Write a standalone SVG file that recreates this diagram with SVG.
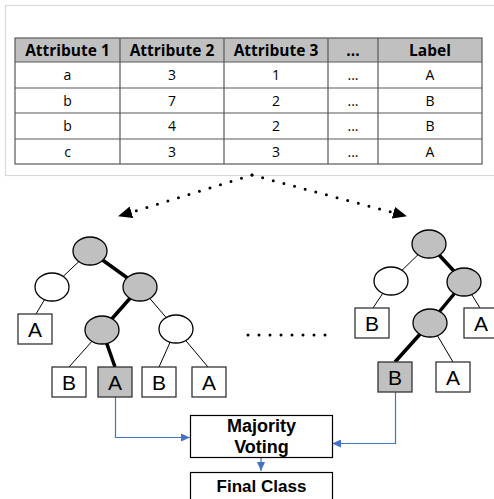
<svg xmlns="http://www.w3.org/2000/svg" width="494" height="499" viewBox="0 0 494 499">
<defs>
<style>
.hdr{font-family:"Open Sans","Liberation Sans",sans-serif;font-weight:bold;font-size:15.5px;fill:#000;text-anchor:middle}
.cell{font-family:"Open Sans","Liberation Sans",sans-serif;font-size:14px;fill:#000;text-anchor:middle}
.grid{stroke:#595959;stroke-width:1.2;fill:none}
.dot{fill:none;stroke:#000;stroke-width:3;stroke-linecap:round;stroke-dasharray:0 11}
.thin{stroke:#000;stroke-width:1}
.thick{stroke:#000;stroke-width:3.5}
.nw{fill:#fff;stroke:#000;stroke-width:1.3}
.ng{fill:#c0c0c0;stroke:#000;stroke-width:1.3}
.bw{fill:#fff;stroke:#333;stroke-width:1.3}
.bg{fill:#c0c0c0;stroke:#333;stroke-width:1.3}
.lt{font-family:"Liberation Sans",Arial,sans-serif;font-size:21px;fill:#000;text-anchor:middle}
.blue{fill:none;stroke:#4472c4;stroke-width:1.2}
.box{fill:#fff;stroke:#000;stroke-width:1.2}
.bt{font-family:"Liberation Sans",Arial,sans-serif;font-weight:bold;font-size:18px;fill:#000;text-anchor:middle}
.bf{font-family:"Liberation Sans",Arial,sans-serif;font-weight:bold;font-size:17px;fill:#000;text-anchor:middle}
</style>
<marker id="ah" markerWidth="14" markerHeight="12" refX="13" refY="6" orient="auto" markerUnits="userSpaceOnUse"><path d="M0,0 L14,6 L0,12 Z" fill="#000"/></marker>
<marker id="bh" markerWidth="9" markerHeight="8" refX="9" refY="4" orient="auto" markerUnits="userSpaceOnUse"><path d="M0,0 L9,4 L0,8 Z" fill="#4472c4"/></marker>
</defs>
<rect width="494" height="499" fill="#fff"/>
<g id="dataset">
<rect x="5.5" y="5.5" width="495" height="170" fill="#fff" stroke="#d9d9d9" stroke-width="1.2"/>
<rect x="15" y="38" width="467" height="24" fill="#c0c0c0"/>
<rect x="15" y="38" width="467" height="126" class="grid"/>
<path class="grid" d="M15,62H482M15,88H482M15,113H482M15,139H482M120,38V164M224,38V164M328,38V164M378,38V164"/>
<text class="hdr" x="67.5" y="55.5">Attribute 1</text>
<text class="hdr" x="172" y="55.5">Attribute 2</text>
<text class="hdr" x="276" y="55.5">Attribute 3</text>
<text class="hdr" x="353" y="55.5">...</text>
<text class="hdr" x="430" y="55.5">Label</text>
<text class="cell" x="67.5" y="80">a</text><text class="cell" x="172" y="80">3</text><text class="cell" x="276" y="80">1</text><text class="cell" x="353" y="80">...</text><text class="cell" x="430" y="80">A</text>
<text class="cell" x="67.5" y="105.5">b</text><text class="cell" x="172" y="105.5">7</text><text class="cell" x="276" y="105.5">2</text><text class="cell" x="353" y="105.5">...</text><text class="cell" x="430" y="105.5">B</text>
<text class="cell" x="67.5" y="131">b</text><text class="cell" x="172" y="131">4</text><text class="cell" x="276" y="131">2</text><text class="cell" x="353" y="131">...</text><text class="cell" x="430" y="131">B</text>
<text class="cell" x="67.5" y="156.5">c</text><text class="cell" x="172" y="156.5">3</text><text class="cell" x="276" y="156.5">3</text><text class="cell" x="353" y="156.5">...</text><text class="cell" x="430" y="156.5">A</text>
</g>
<g id="connectors">
<path class="dot" d="M252,175 L119,216" marker-end="url(#ah)"/>
<path class="dot" d="M252,175 L406,216" marker-end="url(#ah)"/>
<path class="dot" d="M248,335 H333"/>
<line class="thin" x1="90" y1="251" x2="52" y2="287"/>
<line class="thick" x1="90" y1="251" x2="140" y2="287"/>
<line class="thin" x1="52" y1="287" x2="36" y2="314"/>
<line class="thick" x1="140" y1="287" x2="102" y2="330"/>
<line class="thin" x1="140" y1="287" x2="176" y2="329"/>
<line class="thin" x1="102" y1="330" x2="69" y2="367"/>
<line class="thick" x1="102" y1="330" x2="115" y2="367"/>
<line class="thin" x1="176" y1="329" x2="159" y2="367"/>
<line class="thin" x1="176" y1="329" x2="208" y2="367"/>
<line class="thin" x1="429" y1="244" x2="391" y2="281"/>
<line class="thick" x1="429" y1="244" x2="464" y2="282"/>
<line class="thin" x1="391" y1="281" x2="373" y2="308"/>
<line class="thick" x1="464" y1="282" x2="430" y2="323"/>
<line class="thin" x1="464" y1="282" x2="480" y2="308"/>
<line class="thick" x1="430" y1="323" x2="395" y2="362"/>
<line class="thin" x1="430" y1="323" x2="453" y2="362"/>
<path class="blue" d="M115.5,397 V437.5 H190" marker-end="url(#bh)"/>
<path class="blue" d="M395.5,392 V443.5 H332" marker-end="url(#bh)"/>
<path class="blue" d="M261,458 V471" marker-end="url(#bh)"/>
</g>
<g id="tree1">
<ellipse class="ng" cx="90" cy="251" rx="17" ry="14"/>
<ellipse class="nw" cx="52" cy="287" rx="17" ry="14"/>
<ellipse class="ng" cx="140" cy="287" rx="17" ry="14"/>
<ellipse class="ng" cx="102" cy="330" rx="17" ry="14"/>
<ellipse class="nw" cx="176" cy="329" rx="17" ry="14"/>
<rect class="bw" x="18" y="314" width="34" height="30"/><text class="lt" x="35" y="337">A</text>
<rect class="bw" x="52" y="367" width="34" height="30"/><text class="lt" x="69" y="390">B</text>
<rect class="bg" x="98" y="367" width="34" height="30"/><text class="lt" x="115" y="390">A</text>
<rect class="bw" x="142" y="367" width="34" height="30"/><text class="lt" x="159" y="390">B</text>
<rect class="bw" x="192" y="367" width="34" height="30"/><text class="lt" x="209" y="390">A</text>
</g>
<g id="tree2">
<ellipse class="ng" cx="429" cy="244" rx="17" ry="14"/>
<ellipse class="nw" cx="391" cy="281" rx="17" ry="14"/>
<ellipse class="ng" cx="464" cy="282" rx="17" ry="14"/>
<ellipse class="ng" cx="430" cy="323" rx="17" ry="14"/>
<rect class="bw" x="355" y="308" width="34" height="30"/><text class="lt" x="372" y="331">B</text>
<rect class="bw" x="464" y="308" width="34" height="30"/><text class="lt" x="481" y="331">A</text>
<rect class="bg" x="378" y="362" width="34" height="30"/><text class="lt" x="395" y="385">B</text>
<rect class="bw" x="436" y="362" width="34" height="30"/><text class="lt" x="453" y="385">A</text>
</g>
<g id="majority">
<rect class="box" x="190.5" y="415.5" width="142" height="42"/>
<text class="bt" x="261.5" y="432">Majority</text>
<text class="bt" x="261.5" y="452.5">Voting</text>
</g>
<g id="final">
<rect class="box" x="190.5" y="472.5" width="142" height="30"/>
<text class="bf" x="261.5" y="492">Final Class</text>
</g>
</svg>
